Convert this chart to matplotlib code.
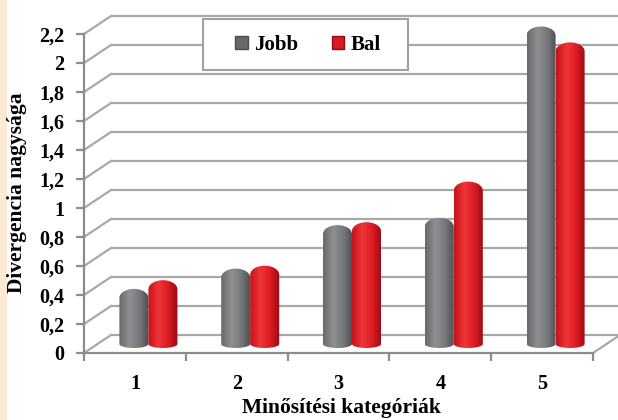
import numpy as np
import matplotlib.pyplot as plt
from matplotlib.patches import Rectangle, PathPatch, Patch
from matplotlib.path import Path
from matplotlib.colors import LinearSegmentedColormap

categories = ['1', '2', '3', '4', '5']
series_names = ['Jobb', 'Bal']
jobb = [0.38, 0.52, 0.82, 0.87, 2.19]
bal = [0.44, 0.54, 0.84, 1.12, 2.08]
y_ticks = [0, 0.2, 0.4, 0.6, 0.8, 1.0, 1.2, 1.4, 1.6, 1.8, 2.0, 2.2]
y_tick_labels = ['0', '0,2', '0,4', '0,6', '0,8', '1', '1,2', '1,4', '1,6', '1,8', '2', '2,2']

plt.rcParams['font.family'] = ['Liberation Serif', 'DejaVu Serif']
plt.rcParams['font.weight'] = 'bold'

W, H = 618, 420
fig = plt.figure(figsize=(W / 100, H / 100), dpi=100)
fig.patch.set_facecolor('white')
# peach strip on the left edge
fig.add_artist(Rectangle((0, 0), 7 / W, 1, transform=fig.transFigure,
                         facecolor='#fde9d4', lw=0, zorder=0))

ax = fig.add_axes([84 / W, 67 / H, 509 / W, 319 / H])
ax.patch.set_alpha(0)

grid_c = '#a8a8a8'
axis_c = '#8c8c8c'
n = len(categories)
x = np.arange(1, n + 1)

# depth offset of the back wall, in data units
dx = 27 / (509 / n)
dy = 18 / (319 / 2.2)

# back wall gridlines + side wall diagonals
for v in y_ticks:
    ax.plot([0.5 + dx, n + 0.5 + dx], [v + dy, v + dy], color=grid_c, lw=1.6,
            clip_on=False, zorder=1, solid_capstyle='butt')
    ax.plot([0.5, 0.5 + dx], [v, v + dy], color=grid_c, lw=1.6, clip_on=False, zorder=1)
ax.plot([n + 0.5, n + 0.5 + dx], [0, dy], color=grid_c, lw=1.6, clip_on=False, zorder=1)

# cylinder bars
gray_cm = LinearSegmentedColormap.from_list('g', [(0, '#66686a'), (0.35, '#8e9092'),
                                                  (0.7, '#74767a'), (1, '#4a4c4e')])
red_cm = LinearSegmentedColormap.from_list('r', [(0, '#c4121a'), (0.35, '#f0363a'),
                                                 (0.7, '#da1a22'), (1, '#940c12')])
bw = 0.285
eb = 4 / (319 / 2.2)
cap = 9 / (319 / 2.2)
grad = np.linspace(0, 1, 200)[None, :]


def cylinder(xc, val, cmap):
    y0 = dy / 2
    y1 = val + dy / 2
    t1 = np.linspace(np.pi, 2 * np.pi, 40)
    t2 = np.linspace(0, np.pi, 40)
    xs = np.concatenate([xc + bw / 2 * np.cos(t1), xc + bw / 2 * np.cos(t2)])
    ys = np.concatenate([y0 + eb * np.sin(t1), (y1 - cap) + cap * np.sin(t2)])
    xs = np.append(xs, xs[0])
    ys = np.append(ys, ys[0])
    patch = PathPatch(Path(np.column_stack([xs, ys])), facecolor='none',
                      edgecolor='none', transform=ax.transData)
    ax.add_patch(patch)
    im = ax.imshow(grad, extent=[xc - bw / 2, xc + bw / 2, y0 - eb, y1], cmap=cmap,
                   aspect='auto', interpolation='bicubic', zorder=3)
    im.set_clip_path(patch)
    im.set_clip_box(fig.bbox)


for i in range(n):
    cylinder(x[i] - bw / 2 + dx / 2, jobb[i], gray_cm)
    cylinder(x[i] + bw / 2 + dx / 2, bal[i], red_cm)

ax.set_xlim(0.5, n + 0.5)
ax.set_ylim(0, 2.2)

for s in ['top', 'right']:
    ax.spines[s].set_visible(False)
for s in ['left', 'bottom']:
    ax.spines[s].set_color(axis_c)
    ax.spines[s].set_linewidth(1.6)
    ax.spines[s].set_zorder(2)

ax.set_yticks(y_ticks, y_tick_labels)
ax.tick_params(axis='y', length=6, width=1.6, color=axis_c, pad=8, labelsize=14.5)
ax.set_xticks(x, categories)
ax.set_xticks(np.arange(0.5, n + 1), minor=True)
ax.tick_params(axis='x', which='major', length=0, pad=15, labelsize=14.5)
ax.tick_params(axis='x', which='minor', length=6, width=1.6, color=axis_c)

ax.set_xlabel('Minősítési kategóriák', fontsize=15.5, fontweight='bold')
ax.xaxis.set_label_coords(0.505, -0.14)
fig.text(17 / W, 1 - 193 / H, 'Divergencia nagysága', rotation=90, fontsize=15.5,
         fontweight='bold', ha='center', va='center')

# legend box
fig.add_artist(Rectangle((203 / W, 1 - 70 / H), 205 / W, 51 / H, transform=fig.transFigure,
                         facecolor='white', edgecolor='#a0a0a0', lw=1.5, zorder=4))
handles = [Patch(facecolor='#66686a', edgecolor='#4a4c4e'),
           Patch(facecolor='#d81a22', edgecolor='#940c12')]
fig.legend(handles, series_names, loc='center', bbox_to_anchor=(308 / W, 1 - 45 / H),
           ncol=2, frameon=False, fontsize=15, handlelength=0.6, handleheight=0.6,
           handletextpad=0.3, columnspacing=1.6)

fig.savefig('out.png', dpi=100)
